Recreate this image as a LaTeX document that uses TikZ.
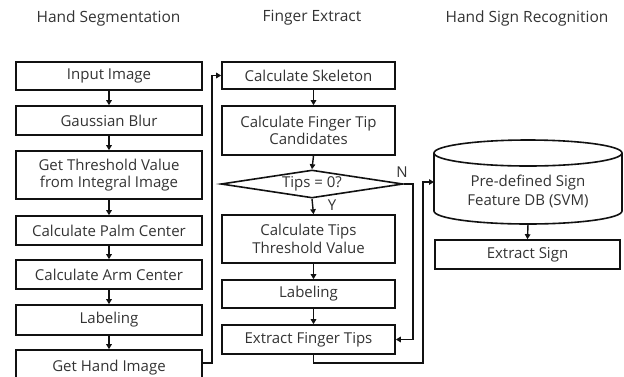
\documentclass[tikz,border=0pt]{standalone}
\usepackage{fontspec}
\setmainfont{Open Sans}
\usetikzlibrary{arrows.meta,shapes.geometric,calc}
\definecolor{txt}{HTML}{333333}
\definecolor{ln}{HTML}{111111}
\tikzset{
  pbox/.style={draw=ln,line width=1.6pt,rectangle,inner sep=0pt,align=center,text=txt,font=\fontsize{15}{17.5}\selectfont},
  flow/.style={draw=ln,line width=1.4pt,-{Triangle[length=5pt,width=5.5pt]}},
  ttl/.style={text=txt,font=\fontsize{15.5}{18}\selectfont},
  lbl/.style={text=txt,font=\fontsize{15}{17.5}\selectfont},
}
\begin{document}
\begin{tikzpicture}[x=1pt,y=-1pt]
\useasboundingbox (0,0) rectangle (624,376);
% titles
\node[ttl] (t1) at (108.5,18) {Hand Segmentation};
\node[ttl] (t2) at (312,18) {Finger Extract};
\node[ttl] (t3) at (527,18) {Hand Sign Recognition};
% column 1
\node[pbox,minimum width=186pt,minimum height=28pt] (a1) at (109,76) {Input Image};
\node[pbox,minimum width=186pt,minimum height=29pt] (a2) at (109,120.5) {Gaussian Blur};
\node[pbox,minimum width=186pt,minimum height=48pt] (a3) at (109,175) {Get Threshold Value\\from Integral Image};
\node[pbox,minimum width=186pt,minimum height=29pt] (a4) at (109,230.5) {Calculate Palm Center};
\node[pbox,minimum width=186pt,minimum height=29pt] (a5) at (109,274.5) {Calculate Arm Center};
\node[pbox,minimum width=186pt,minimum height=30pt] (a6) at (109,320) {Labeling};
\node[pbox,minimum width=186pt,minimum height=32pt,text depth=0pt] (a7) at (109,366) {Get Hand Image};
\foreach \i/\j in {a1/a2,a2/a3,a3/a4,a4/a5,a5/a6,a6/a7}
  \draw[flow] (\i.south) -- (\j.north);
% column 2
\node[pbox,minimum width=173pt,minimum height=27pt] (b1) at (308.5,75.5) {Calculate Skeleton};
\node[pbox,minimum width=173pt,minimum height=49pt] (b2) at (308.5,130.5) {Calculate Finger Tip\\Candidates};
\node[pbox,diamond,aspect=6.5,minimum width=182pt,minimum height=28pt,inner sep=0pt] (b3) at (312,184) {};
\node[lbl] (b3t) at (312,184) {Tips = 0?};
\node[pbox,minimum width=173pt,minimum height=48pt] (b4) at (308.5,239) {Calculate Tips\\Threshold Value};
\node[pbox,minimum width=173pt,minimum height=28pt] (b5) at (308.5,294) {Labeling};
\node[pbox,minimum width=173pt,minimum height=29pt] (b6) at (308.5,339.5) {Extract Finger Tips};
\draw[flow] ([xshift=5pt]b1.south) -- ([xshift=5pt]b2.north);
\draw[flow] ([xshift=5pt]b2.south) -- (b3.north);
\draw[flow] (b3.south) -- ([xshift=5pt]b4.north);
\draw[flow] ([xshift=5pt]b4.south) -- ([xshift=5pt]b5.north);
\draw[flow] ([xshift=5pt]b5.south) -- ([xshift=5pt]b6.north);
\node[lbl] (ylab) at (332,205) {Y};
\node[lbl] (nlab) at (402,172) {N};
% column 3: cylinder
\draw[ln,line width=1.6pt,fill=white] (434,153) -- (434,211) arc[start angle=180,end angle=0,x radius=94,y radius=13] -- (622,153);
\draw[ln,line width=1.6pt] (528,153) ellipse[x radius=94,y radius=13];
\coordinate (cylw) at (434,182);
\coordinate (cyls) at (528,224);
\node[lbl,align=center,font=\fontsize{15}{19}\selectfont] (c1) at (528,191) {Pre-defined Sign\\Feature DB (SVM)};
\node[pbox,minimum width=185pt,minimum height=29pt] (c2) at (527.5,254.5) {Extract Sign};
\draw[flow] (cyls) -- (c2.north);
% cross connectors
\coordinate (g1) at (212,363);
\draw[flow] (a7.east |- g1) -- (g1) -- (g1 |- b1.west) -- (b1.west);
\coordinate (n1) at (413,184);
\draw[flow] (b3.east) -- (n1) -- (n1 |- b6.east) -- (b6.east);
\coordinate (e1) at (423,363);
\draw[flow] ([xshift=5pt]b6.south) -- ([xshift=5pt]b6.south |- e1) -- (e1) -- (e1 |- cylw) -- (cylw);
\end{tikzpicture}
\end{document}
